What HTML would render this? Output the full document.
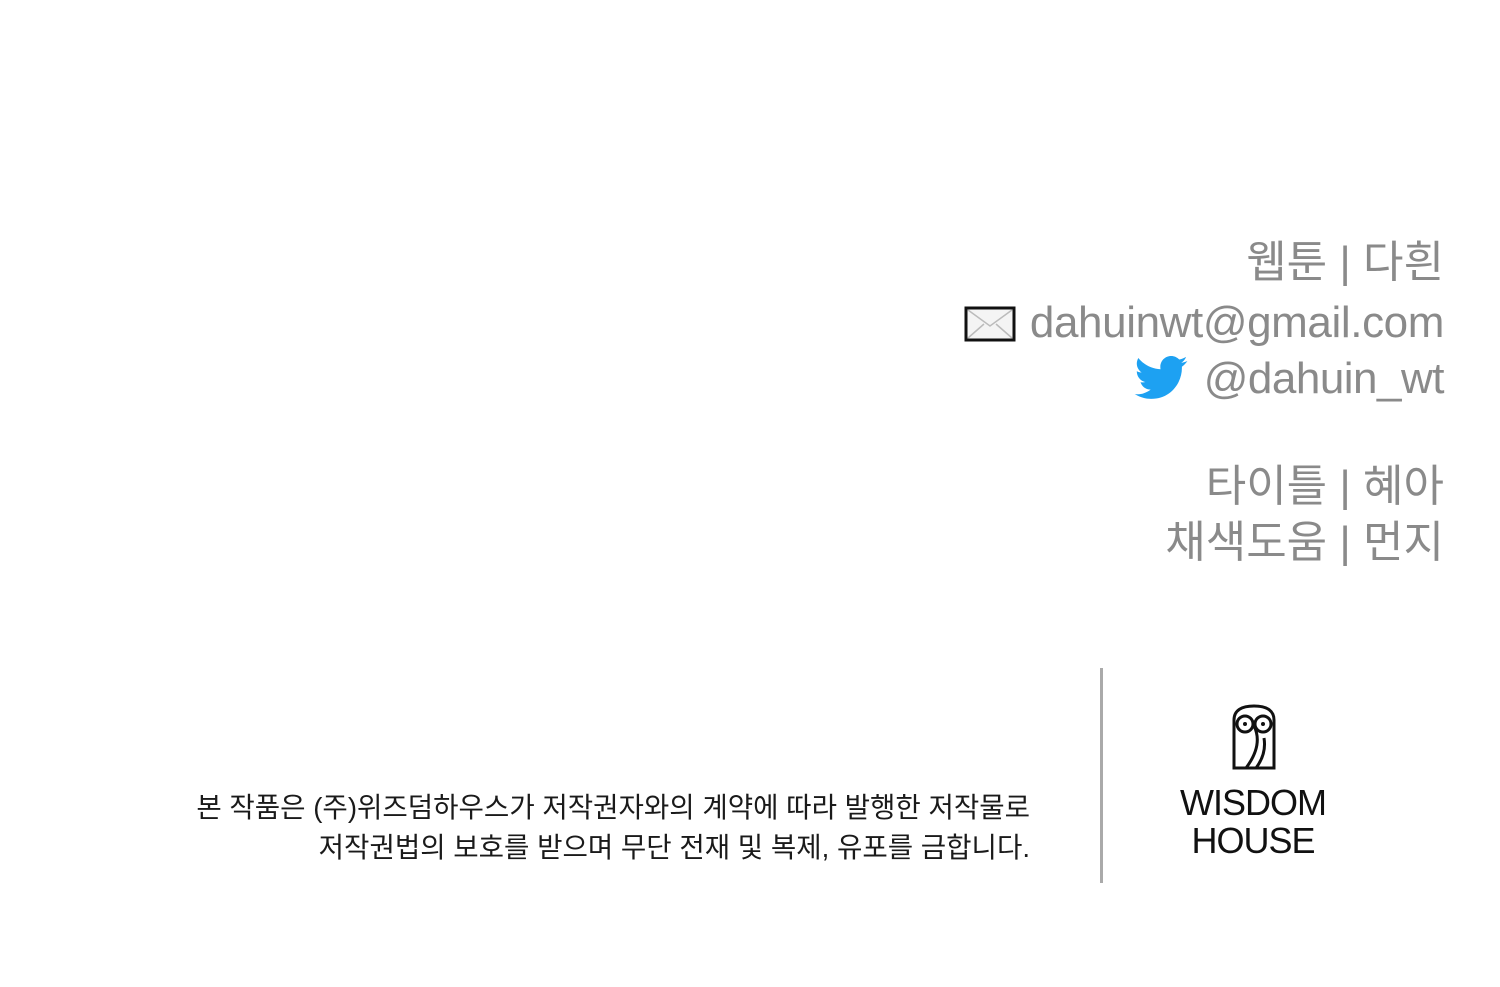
<!DOCTYPE html>
<html><head><meta charset="utf-8"><style>
body{margin:0;width:1500px;height:987px;background:#fff;position:relative;overflow:hidden;font-family:"Liberation Sans","Noto Sans CJK KR",sans-serif}
.r{position:absolute;right:56px;color:#8a8a8a;white-space:nowrap;text-align:right}
.n{position:absolute;white-space:nowrap;color:#1a1a1a;font-size:27.6px;right:470px}
</style></head><body>
<div class="r" style="top:236px;font-size:44px;line-height:54px">웹툰 | 다흰</div>
<div class="r" style="top:296px;font-size:44px;line-height:54px;letter-spacing:-0.4px">dahuinwt@gmail.com</div>
<svg style="position:absolute;left:964px;top:306px" width="52" height="36"><rect x="2" y="2" width="48" height="32" fill="#f4f4f4" stroke="#111" stroke-width="3"/><path d="M4 4L26 20L48 4M4 32L20 18M48 32L32 18" stroke="#bbb" fill="none" stroke-width="1.5"/></svg>
<div class="r" style="top:352px;font-size:44px;line-height:54px;letter-spacing:-0.5px">@dahuin_wt</div>
<svg style="position:absolute;left:1134px;top:356px" width="54" height="44" viewBox="0 0 24 20"><path fill="#1da1f2" d="M24 2.3c-.9.4-1.8.7-2.8.8 1-.6 1.800-1.6 2.2-2.7-1 .6-2 1-3.1 1.2C19.3.6 18 0 16.6 0c-2.7 0-4.9 2.2-4.9 4.9 0 .4 0 .8.1 1.1C7.7 5.8 4.1 3.9 1.7.9c-.4.7-.7 1.6-.7 2.5 0 1.7.9 3.2 2.2 4.1-.8 0-1.6-.2-2.2-.6v.1c0 2.4 1.7 4.4 3.9 4.8-.4.1-.8.2-1.3.2-.3 0-.6 0-.9-.1.6 2 2.4 3.4 4.6 3.4-1.700 1.3-3.8 2.1-6.1 2.1-.4 0-.8 0-1.2-.1 2.2 1.4 4.8 2.2 7.5 2.2 9.1 0 14-7.5 14-14v-.6c1-.7 1.8-1.6 2.5-2.6z"/></svg>
<div class="r" style="top:460px;font-size:44px;line-height:54px">타이틀 | 혜아</div>
<div class="r" style="top:516px;font-size:44px;line-height:54px">채색도움 | 먼지</div>
<div class="n" style="top:785px">본 작품은 (주)위즈덤하우스가 저작권자와의 계약에 따라 발행한 저작물로</div>
<div class="n" style="top:825px">저작권법의 보호를 받으며 무단 전재 및 복제, 유포를 금합니다.</div>
<div style="position:absolute;left:1100px;top:668px;width:3px;height:215px;background:#aaa"></div>
<svg style="position:absolute;left:1228px;top:704px" width="52" height="66" viewBox="0 0 52 66"><g fill="none" stroke="#111" stroke-width="3"><path d="M6 64V16C6 6 14 2 26 2S46 6 46 16V64Z"/><circle cx="17" cy="20" r="8"/><circle cx="35" cy="20" r="8"/><path d="M26 22C32 34 30 48 18 64M36 34C38 46 34 56 28 64"/></g><circle cx="17" cy="20" r="2" fill="#111"/><circle cx="35" cy="20" r="2" fill="#111"/></svg>
<div style="position:absolute;left:1150px;width:206px;top:784px;text-align:center;font-size:36px;line-height:38px;color:#111;letter-spacing:-1px">WISDOM<br>HOUSE</div>
</body></html>
